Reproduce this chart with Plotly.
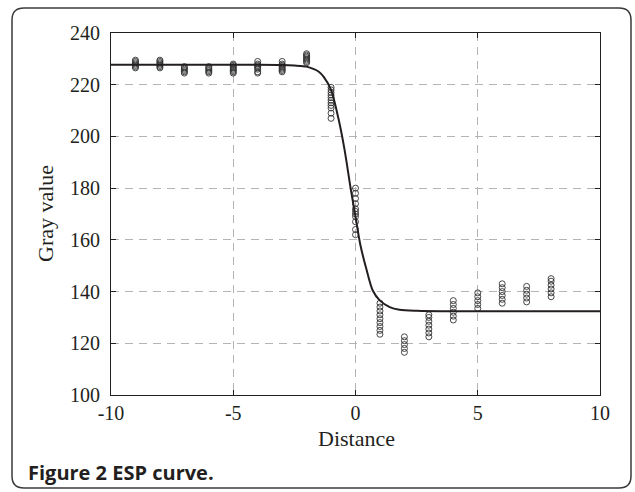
import plotly.graph_objects as go

# ---- data ----
point_x = [-9, -8, -7, -6, -5, -4, -3, -2, -1, 0, 1, 2, 3, 4, 5, 6, 7, 8]
point_gray = [
    [226.5, 227, 227.5, 228, 228.5, 229, 229.5],
    [226.5, 227, 227.5, 228, 228.5, 229, 229.5],
    [224.5, 225, 225.5, 226, 226.5, 227],
    [224.5, 225, 225.5, 226, 226.5, 227],
    [224.5, 225, 225.5, 226, 226.5, 227, 227.5, 228],
    [224.5, 225, 226, 226.5, 227, 227.5, 228, 229],
    [225, 225.5, 226, 226.5, 227, 227.5, 228, 229],
    [228.5, 229, 229.5, 230, 230.5, 231, 231.5, 232],
    [207, 209, 211, 212, 213, 214, 215, 216, 217, 218, 219],
    [162, 164, 167, 169, 170, 171, 172, 174, 176, 178, 180],
    [123.5, 125, 126.5, 128, 129.5, 131, 132.5, 134, 135.5],
    [116.5, 118, 119.5, 121, 122.5],
    [122.5, 124, 125.5, 127, 128.5, 130, 131],
    [129, 130.5, 132, 133.5, 135, 136.5],
    [133.5, 135, 136.5, 138, 139.5],
    [135.5, 137, 138.5, 140, 141.5, 143],
    [136, 137.5, 139, 140.5, 142],
    [138, 139.5, 141, 142.5, 144, 145],
]

curve_x = [-10, -4, -3, -2.5, -2, -1.7, -1.5, -1.3, -1.0, -0.7, -0.45, -0.2, 0,
           0.2, 0.45, 0.7, 1.0, 1.4, 1.8, 2.5, 4, 10]
curve_gray = [227.7, 227.7, 227.6, 227.4, 227, 226, 225, 223, 218, 207, 195, 180, 169,
              158, 148.5, 140.5, 136.5, 134, 133, 132.6, 132.4, 132.4]

x_ticks = [-10, -5, 0, 5, 10]
x_tick_text = ["-10", "-5", "0", "5", "10"]
y_ticks = [100, 120, 140, 160, 180, 200, 220, 240]
y_tick_text = ["100", "120", "140", "160", "180", "200", "220", "240"]

x_title = "Distance"
y_title = "Gray value"
caption = "Figure 2 ESP curve."

# ---- flatten scatter ----
sx, sy = [], []
for xv, col in zip(point_x, point_gray):
    for g in col:
        sx.append(xv)
        sy.append(g)

W, H = 635, 492
L, R, T, B = 111, 600, 33, 395
pw, ph = R - L, B - T

def px(x):
    return (x - L) / pw

def py(y):
    return (B - y) / ph

fig = go.Figure()
fig.add_trace(go.Scatter(
    x=sx, y=sy, mode="markers",
    marker=dict(symbol="circle-open", size=6, color="#333333", line=dict(width=0.9)),
    showlegend=False, hoverinfo="skip"))
fig.add_trace(go.Scatter(
    x=curve_x, y=curve_gray, mode="lines",
    line=dict(color="#231f20", width=2, shape="spline", smoothing=0.8),
    showlegend=False))

tick_font = dict(family="Liberation Serif", size=20, color="#231f20")
axis_common = dict(
    showgrid=True, gridcolor="#b4b4b4", gridwidth=1, griddash="8px,6px",
    zeroline=False, showline=True, linecolor="#231f20", linewidth=1,
    mirror="allticks", ticks="inside", ticklen=5, tickcolor="#231f20",
    tickfont=tick_font,
)
fig.update_xaxes(range=[-10, 10], tickvals=x_ticks, ticktext=x_tick_text, **axis_common)
fig.update_yaxes(range=[100, 240], tickvals=y_ticks, ticktext=y_tick_text,
                 ticklabelstandoff=6, **axis_common)

# rounded border frame
l, r, t, b, rad = 12, 631, 8, 488, 12
def P(x, y):
    return f"{px(x):.5f},{py(y):.5f}"
path = (f"M {P(l+rad, t)} L {P(r-rad, t)} Q {P(r, t)} {P(r, t+rad)} "
        f"L {P(r, b-rad)} Q {P(r, b)} {P(r-rad, b)} L {P(l+rad, b)} "
        f"Q {P(l, b)} {P(l, b-rad)} L {P(l, t+rad)} Q {P(l, t)} {P(l+rad, t)} Z")
fig.add_shape(type="path", path=path, xref="paper", yref="paper",
              line=dict(color="#3a3a3a", width=1.5), layer="above")

title_font = dict(family="Liberation Serif", size=22, color="#231f20")
fig.add_annotation(text=x_title, xref="paper", yref="paper", x=px(356), y=py(439),
                   xanchor="center", yanchor="middle", showarrow=False, font=title_font)
fig.add_annotation(text=y_title, xref="paper", yref="paper", x=px(45), y=py(214),
                   xanchor="center", yanchor="middle", showarrow=False, textangle=-90,
                   font=title_font)
fig.add_annotation(text=f"<b>{caption}</b>", xref="paper", yref="paper", x=px(26), y=py(472),
                   xanchor="left", yanchor="middle", showarrow=False,
                   font=dict(family="Open Sans", size=20, color="#231f20"))

fig.update_layout(
    width=W, height=H,
    margin=dict(l=L, r=W - R, t=T, b=H - B, pad=0),
    paper_bgcolor="white", plot_bgcolor="white",
    showlegend=False,
)

fig.write_html("out.html", config={"displayModeBar": False},
               post_script="document.body.style.margin='0px';")
